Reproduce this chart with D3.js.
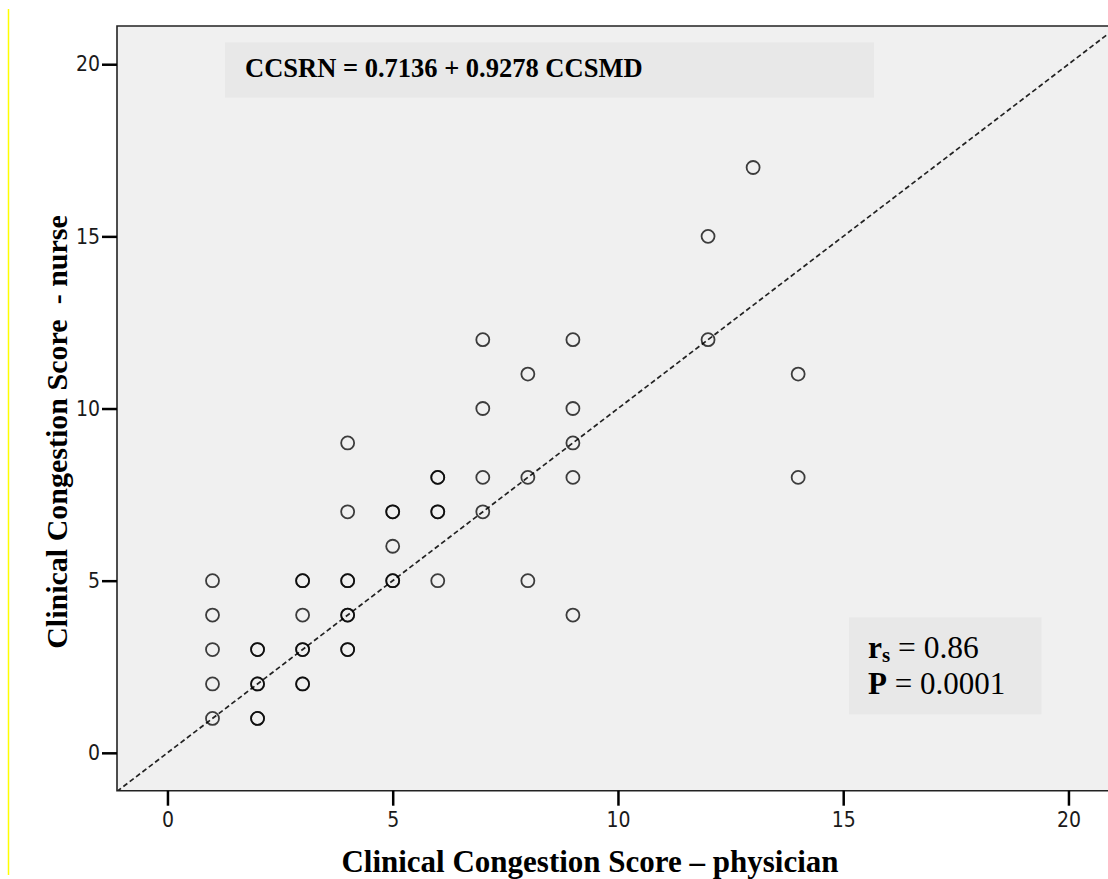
<!DOCTYPE html>
<html>
<head>
<meta charset="utf-8">
<script src="https://cdn.jsdelivr.net/npm/d3@7"></script>
<style>
  html, body { margin: 0; padding: 0; background: #fff; }
  svg { display: block; }
</style>
</head>
<body>
<svg id="chart" width="1108" height="879"></svg>
<script>
// ---- data ----
const physician = [1,1,1,1,1, 2,2,2,2,2,2, 3,3,3,3,3,3,3, 4,4,4,4,4,4,4,4, 5,5,5,5,5, 6,6,6,6,6, 7,7,7,7, 8,8,8, 9,9,9,9,9, 12,12, 13, 14,14];
const nurse     = [1,2,3,4,5, 1,1,2,2,3,3, 2,2,3,3,4,5,5, 3,3,4,4,5,5,7,9, 5,5,6,7,7, 5,7,7,8,8, 7,8,10,12, 5,8,11, 4,8,9,10,12, 12,15, 17, 8,11];
const xTicks = [0, 5, 10, 15, 20];
const yTicks = [0, 5, 10, 15, 20];
const xDomain = [-1.12, 21.1];
const yDomain = [-1.1, 21.11];
const identityLine = [-1.12, 21.1];
const equationText = "CCSRN = 0.7136 + 0.9278 CCSMD";
const rsValue = "0.86";
const pValue = "0.0001";
const xLabel = "Clinical Congestion Score \u2013 physician";
const yLabel = "Clinical Congestion Score  - nurse";

(function () {
// ---- layout ----
const svg = d3.select("#chart");
const pL = 117, pT = 26, pB = 790.7;
const x = d3.scaleLinear().domain(xDomain).range([pL, pL + (xDomain[1] - xDomain[0]) * 45.05]);
const y = d3.scaleLinear().domain(yDomain).range([pB, pT]);
const pR = x(xDomain[1]);
const serif = "'Liberation Serif', 'Times New Roman', serif";

// yellow margin line
svg.append("line").attr("x1", 8.5).attr("x2", 8.5).attr("y1", 9).attr("y2", 875)
  .attr("stroke", "#ffff00").attr("stroke-width", 1.5);

// clip
svg.append("defs").append("clipPath").attr("id", "plotclip")
  .append("rect").attr("x", pL).attr("y", pT).attr("width", pR - pL).attr("height", pB - pT);

// plot background
svg.append("rect").attr("x", pL).attr("y", pT).attr("width", pR - pL).attr("height", pB - pT)
  .attr("fill", "#f0f0f0");

const plot = svg.append("g").attr("clip-path", "url(#plotclip)");

// equation box
plot.append("rect").attr("x", 225).attr("y", 42.3).attr("width", 649).attr("height", 55.4).attr("fill", "#e8e8e8");
plot.append("text").attr("x", 245).attr("y", 76.7)
  .attr("font-family", serif).attr("font-weight", "bold")
  .attr("font-size", 26.5).attr("fill", "#000").text(equationText);

// stats box
plot.append("rect").attr("x", 849).attr("y", 617.3).attr("width", 192.5).attr("height", 97).attr("fill", "#e8e8e8");
const st1 = plot.append("text").attr("x", 868).attr("y", 658.3)
  .attr("font-family", serif).attr("font-size", 31.5).attr("fill", "#000");
st1.append("tspan").attr("font-weight", "bold").text("r");
st1.append("tspan").attr("font-weight", "bold").attr("font-size", 21).attr("dy", 4).text("s");
st1.append("tspan").attr("dy", -4).text(" = " + rsValue);
const st2 = plot.append("text").attr("x", 868).attr("y", 694.3)
  .attr("font-family", serif).attr("font-size", 31).attr("fill", "#000");
st2.append("tspan").attr("font-weight", "bold").text("P");
st2.append("tspan").text(" = " + pValue);

// identity line
plot.append("line")
  .attr("x1", x(identityLine[0])).attr("y1", y(identityLine[0]))
  .attr("x2", x(identityLine[1])).attr("y2", y(identityLine[1]))
  .attr("stroke", "#222").attr("stroke-width", 1.7).attr("stroke-dasharray", "5,3");

// points
const pts = physician.map((p, i) => ({ p, n: nurse[i] }));
plot.selectAll("circle.pt").data(pts).enter().append("circle")
  .attr("class", "pt")
  .attr("cx", d => x(d.p)).attr("cy", d => y(d.n)).attr("r", 6.5)
  .attr("fill", "none").attr("stroke", "#000").attr("stroke-opacity", 0.75).attr("stroke-width", 1.8);

// frame (left, top, bottom)
svg.append("path")
  .attr("d", `M${pR},${pT}H${pL}V${pB}H${pR}`)
  .attr("fill", "none").attr("stroke", "#222").attr("stroke-width", 1.6);

// axes
const tickFont = "'Liberation Sans Narrow', 'Arial Narrow', 'DejaVu Sans Condensed', sans-serif";
const yAxis = svg.append("g").attr("transform", `translate(${pL},0)`)
  .call(d3.axisLeft(y).tickValues(yTicks).tickSize(15).tickPadding(2).tickFormat(d3.format("d")));
const xAxis = svg.append("g").attr("transform", `translate(0,${pB})`)
  .call(d3.axisBottom(x).tickValues(xTicks).tickSize(15).tickPadding(6).tickFormat(d3.format("d")));
[yAxis, xAxis].forEach(a => {
  a.select(".domain").remove();
  a.selectAll(".tick line").attr("stroke", "#000").attr("stroke-width", 2.5);
  a.selectAll(".tick text").attr("font-family", tickFont).attr("font-size", 21).attr("fill", "#1a1a1a");
});

// axis titles
svg.append("text").attr("x", 590).attr("y", 872).attr("text-anchor", "middle")
  .attr("font-family", serif).attr("font-weight", "bold")
  .attr("font-size", 31).attr("fill", "#000").text(xLabel);
svg.append("text").attr("transform", "translate(67,432) rotate(-90)").attr("text-anchor", "middle")
  .attr("font-family", serif).attr("font-weight", "bold")
  .attr("font-size", 30).attr("fill", "#000").attr("xml:space", "preserve").style("white-space", "pre")
  .text(yLabel);
})();
</script>
</body>
</html>
